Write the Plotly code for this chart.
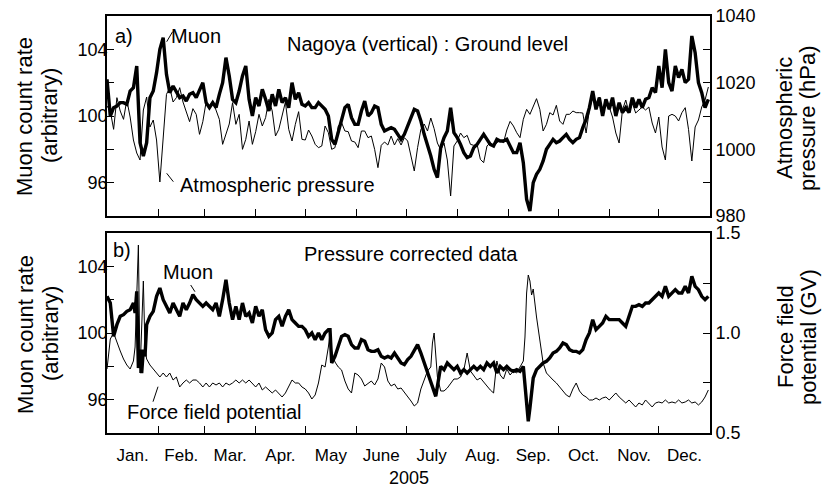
import plotly.graph_objects as go

# ---------------- data (day of year 2005, 0 = Jan 1) ----------------
top_days = list(range(0, 365, 2))

muon_ground = [
    102.2, 100.0, 100.5, 100.6, 100.8, 100.8, 100.7, 101.5, 101.7, 103.0,
    98.4, 97.6, 98.4, 101.1, 101.5, 102.6, 104.0, 104.7, 102.5, 101.4,
    101.8, 101.4, 101.1, 101.2, 100.9, 101.3, 101.4, 101.1, 101.6, 102.0,
    100.8, 100.5, 100.8, 100.5, 101.3, 102.0, 103.5, 102.4, 101.0, 100.8,
    101.5, 102.4, 103.0, 101.0, 100.0, 101.1, 100.6, 101.6, 101.0, 100.3,
    101.3, 100.6, 101.6, 100.8, 101.1, 100.5, 102.0, 101.0, 101.4,
    100.7, 100.6, 100.8, 100.5, 100.5, 100.8, 100.6, 100.4, 100.0, 98.6,
    98.3, 99.0, 99.8, 100.5, 100.7, 99.9, 99.5, 99.5, 100.3, 100.9,
    100.0, 100.2, 100.6, 100.5, 99.5, 99.1, 99.2, 99.3, 99.2, 98.9,
    98.6, 98.9, 99.4, 100.0, 100.4, 100.3, 99.7, 98.9, 98.3, 97.6,
    96.8, 96.3, 98.1, 98.7, 99.1, 100.5, 99.0, 98.7, 98.3, 97.8,
    97.5, 97.6, 98.1, 98.3, 98.6, 98.9, 98.6, 98.3, 98.2, 98.6,
    98.5, 98.5, 98.6, 98.2, 97.8, 97.8, 98.4, 97.2, 95.0, 94.3,
    96.0, 96.5, 96.8, 97.3, 98.0, 98.3, 98.6, 98.4, 98.5, 98.7,
    98.9, 98.6, 98.4, 98.6, 98.7,
    99.3, 99.8, 100.5, 101.5, 100.4, 101.1, 100.0, 101.0, 100.4, 101.1,
    100.0, 100.8, 100.2, 100.5, 100.2, 101.1, 100.5, 101.0, 100.5, 101.0,
    101.1, 101.7, 101.4, 103.0, 101.7, 104.0, 102.0, 101.5, 103.0, 102.3,
    102.8, 102.0, 102.2, 104.8, 103.8, 102.0, 101.4, 100.5, 101.0,
]

pressure_hpa = [
    1013, 1011.5, 1006, 1015.5, 1011.5, 1009, 1014.8, 1009.7, 1002.8, 998.9,
    996.8, 1011.8, 1015.7, 1006.7, 1008.8, 1002.8, 990.2, 1004.9, 1016.5, 1018.5,
    1014.2, 1015.5, 1018.5, 1014.2, 1011, 1008.3, 1012.2, 1010.5, 1004.5, 1008.3,
    1014.2, 1013, 1014.5, 1012, 1009, 1001.5, 1004.5, 1007.6, 1014, 1007.5,
    1010.5, 1000, 1003, 1008.5, 1001.5, 1005.3, 1010.5, 1007, 1009.5, 1015,
    1011.5, 1004, 1006, 1010.5, 1014.2, 1006, 1002.5, 1007.5, 1011.3,
    1003, 1002.8, 1005.8, 1004, 1001.5, 1000.5, 1001, 1007, 1005, 1000,
    1000.5, 1007, 1008, 1005.5, 1005.3, 1002.5, 1002.2, 1000.5, 1005.5, 1005.5,
    1003.5, 1004, 1000, 994.5, 1001.2, 1002.2, 1001.3, 1004, 1001.3, 1003.2,
    1001.3, 1003.5, 1002.5, 998.3, 993.5, 1000.5, 1006, 1007.6, 1005.5, 1009.4,
    1006.2, 1001.9, 999.8, 1001.9, 996.8, 986, 1001, 1002.5, 1004.9, 1003.5,
    1004.2, 1001.5, 1001.2, 1001.5, 997, 996, 1001, 1002, 1000.8, 1002,
    1002.6, 1002, 1005.8, 1008.4, 1007, 1005, 1003.5, 1009, 1012, 1010.5,
    1013, 1015.2, 1012, 1005.5, 1007.5, 1011, 1010.3, 1013.2, 1008.5, 1007.5,
    1010.5, 1010.5, 1011.5, 1011, 1011,
    1010.9, 1004.9, 1011.8, 1015.7, 1012.7, 1015.7, 1010.9, 1014.8, 1012.7, 1009.7,
    1004.9, 1001.9, 1011.8, 1014.8, 1010.9, 1013.9, 1010.9, 1011.8, 1012.7, 1011.8,
    1012.7, 1007.9, 1004.9, 1009.7, 1000.7, 996.8, 1010, 1010.5, 1010, 1008.5,
    1011, 1012.5, 1006, 996.5, 1006.7, 1008.8, 1012.7, 1014.8, 1018.7,
]

corr_days = ([0, 2, 4, 6, 8, 10, 12, 14, 16, 17, 18, 19, 20, 21, 22, 23, 24]
             + list(range(26, 135, 2)) + [135] + list(range(136, 199, 2)) + [199]
             + list(range(200, 253, 2)) + [253, 254, 255, 256, 257]
             + list(range(258, 365, 2)))

muon_corrected = [
    102.2, 101.8, 99.8, 100.5, 101.0, 101.1, 101.3, 101.4, 101.8, 101.2,
    102.5, 97.9, 99.0, 97.6, 99.0, 98.6, 100.5,
    101.0, 101.3, 102.2, 102.7, 102.0, 101.6, 101.2, 101.8, 101.4, 101.0,
    101.8, 101.4, 101.8, 102.3, 102.0, 101.8, 101.6, 101.8, 101.6, 101.4,
    101.8, 101.0, 102.0, 103.2, 101.8, 100.8, 101.6, 100.8, 101.8, 101.0,
    101.2, 100.6, 101.6, 101.0, 101.4, 100.2, 99.8, 100.0, 100.8, 101.0,
    100.4, 101.0, 101.4, 100.8, 100.6, 100.4, 100.4, 100.2, 99.8, 100.0,
    99.6, 100.0, 99.6, 100.0, 100.2,
    100.2,
    98.2, 98.6, 99.2, 99.8, 99.9, 99.8, 99.3, 99.1, 99.1, 99.6,
    99.5, 99.0, 98.9, 98.9, 99.0, 98.6, 98.5, 98.6, 98.5, 98.8,
    98.5, 98.2, 98.1, 98.4, 98.6, 99.0, 99.3, 98.8, 98.2, 97.6,
    97.0, 96.5,
    96.2,
    96.8, 98.0, 97.8, 98.2, 98.0, 97.8, 98.0, 97.6, 97.8, 97.6,
    97.8, 98.0, 97.8, 98.0, 97.8, 98.2, 98.0, 98.2, 97.6, 98.0,
    97.8, 98.0, 97.8, 97.7, 97.8, 97.7, 98.0,
    96.8, 95.7, 94.7, 95.5, 96.3,
    97.3, 97.8, 98.0, 98.2, 98.3, 98.5, 98.8, 98.9, 99.1, 99.4,
    99.3, 99.0, 98.9, 98.9, 98.8, 99.0, 99.6, 100.0, 100.8, 100.2,
    100.4, 100.6, 101.0, 100.8, 100.8, 100.8, 100.8, 100.6, 100.4, 101.0,
    101.6, 101.6, 101.7, 101.6, 101.8, 101.8, 102.0, 102.2, 102.4, 102.2,
    102.8, 102.2, 102.4, 102.6, 102.4, 102.4, 102.8, 102.4, 103.4, 102.8,
    102.6, 102.2, 102.0, 102.2,
]

ffp_days = ([0, 2, 4, 6, 8, 10, 12, 14, 16, 17, 18, 19, 20, 21, 22, 23, 24]
            + list(range(26, 135, 2)) + [135] + list(range(136, 197, 2))
            + [197, 198, 199] + list(range(200, 217, 2)) + [217]
            + list(range(218, 253, 2)) + [253, 254, 255, 256, 257]
            + list(range(258, 365, 2)))

force_field_gv = [
    0.82, 0.97, 1.0, 0.95, 0.91, 0.87, 0.84, 0.82, 0.86, 0.93,
    1.22, 1.44, 0.80, 1.08, 1.26, 0.92, 0.87,
    0.84, 0.82, 0.80, 0.78, 0.80, 0.78, 0.80, 0.765, 0.78, 0.73,
    0.75, 0.765, 0.75, 0.765, 0.765, 0.75, 0.73, 0.75, 0.73, 0.75,
    0.74, 0.75, 0.73, 0.75, 0.74, 0.75, 0.765, 0.75, 0.765, 0.75,
    0.765, 0.75, 0.73, 0.75, 0.715, 0.73, 0.715, 0.70, 0.715, 0.70,
    0.68, 0.70, 0.73, 0.765, 0.75, 0.75, 0.73, 0.72, 0.70, 0.67,
    0.69, 0.75, 0.84, 0.83, 0.93,
    1.0,
    0.91, 0.855, 0.83, 0.815, 0.76, 0.72, 0.70, 0.80, 0.79, 0.77,
    0.735, 0.75, 0.76, 0.74, 0.77, 0.85, 0.83, 0.76, 0.735, 0.745,
    0.72, 0.725, 0.705, 0.685, 0.66, 0.635, 0.65, 0.72, 0.77, 0.81,
    0.83,
    0.95, 1.0, 0.88,
    0.78, 0.71, 0.71, 0.725, 0.75, 0.77, 0.77, 0.78, 0.815,
    0.85,
    0.90, 0.81, 0.785, 0.765, 0.775, 0.755, 0.73, 0.715, 0.70, 0.86,
    0.79, 0.77, 0.82, 0.79, 0.81, 0.80, 0.83, 0.86,
    0.98, 1.2, 1.29, 1.26, 1.19,
    1.22, 1.08, 0.95, 0.85, 0.80, 0.78, 0.765, 0.75, 0.73, 0.715,
    0.69, 0.68, 0.72, 0.75, 0.71, 0.69, 0.68, 0.665, 0.665, 0.675,
    0.665, 0.675, 0.68, 0.665, 0.68, 0.70, 0.68, 0.665, 0.65, 0.665,
    0.65, 0.63, 0.65, 0.64, 0.665, 0.65, 0.63, 0.65, 0.655, 0.65,
    0.665, 0.65, 0.655, 0.65, 0.665, 0.65, 0.655, 0.665, 0.65, 0.655,
    0.64, 0.655, 0.68, 0.715,
]

month_names = ["Jan.", "Feb.", "Mar.", "Apr.", "May", "June", "July",
               "Aug.", "Sep.", "Oct.", "Nov.", "Dec."]
month_lengths = [31, 28, 31, 30, 31, 30, 31, 31, 30, 31, 30, 31]

muon_ticks = [96, 98, 100, 102, 104]
muon_ticktext = ["96", "", "100", "", "104"]
pressure_ticks = [980, 990, 1000, 1010, 1020, 1030, 1040]
pressure_ticktext = ["980", "", "1000", "", "1020", "", "1040"]
ffp_ticks = [0.5, 0.75, 1.0, 1.25, 1.5]
ffp_ticktext = ["0.5", "", "1.0", "", "1.5"]

assert len(muon_ground) == len(top_days)
assert len(pressure_hpa) == len(top_days)
assert len(muon_corrected) == len(corr_days)
assert len(force_field_gv) == len(ffp_days)

month_starts = []
month_mids = []
acc = 0
for ml in month_lengths:
    month_mids.append(acc + ml / 2)
    acc += ml
    month_starts.append(acc)
month_starts = month_starts[:-1]

FONT = "Liberation Sans, Arial, sans-serif"
INK = "black"

fig = go.Figure()
fig.add_trace(go.Scatter(x=top_days, y=pressure_hpa, mode="lines",
                         line=dict(color=INK, width=1), xaxis="x", yaxis="y"))
fig.add_trace(go.Scatter(x=top_days, y=muon_ground, mode="lines",
                         line=dict(color=INK, width=3.4), xaxis="x", yaxis="y2"))
fig.add_trace(go.Scatter(x=ffp_days, y=force_field_gv, mode="lines",
                         line=dict(color=INK, width=1), xaxis="x2", yaxis="y3"))
fig.add_trace(go.Scatter(x=corr_days, y=muon_corrected, mode="lines",
                         line=dict(color=INK, width=3.4), xaxis="x2", yaxis="y4"))

top_dom = [0.5204, 1.0]
bot_dom = [0.0, 0.4796]

common_ax = dict(showgrid=False, zeroline=False, showline=True, linecolor=INK,
                 linewidth=1.6, automargin=False,
                 tickfont=dict(family=FONT, size=18, color=INK))
xcommon = dict(common_ax, range=[0, 365], mirror=True, ticks="",
               minor=dict(tickmode="array", tickvals=month_starts, ticks="inside",
                          ticklen=7, tickwidth=1.2, tickcolor=INK))
ycommon = dict(common_ax, ticks="inside", ticklen=7, tickwidth=1.2, tickcolor=INK)

fig.update_layout(
    width=824, height=489,
    margin=dict(l=107, r=114, t=16, b=56, autoexpand=False),
    paper_bgcolor="white", plot_bgcolor="white",
    showlegend=False,
    font=dict(family=FONT, color=INK),
    xaxis=dict(xcommon, domain=[0, 1], anchor="y", showticklabels=False,
               tickvals=month_mids),
    xaxis2=dict(xcommon, domain=[0, 1], anchor="y3", tickmode="array",
                tickvals=month_mids, ticktext=month_names, ticklabelstandoff=6,
                tickfont=dict(family=FONT, size=17, color=INK)),
    yaxis=dict(ycommon, domain=top_dom, anchor="x", side="right",
               range=[980, 1040], tickmode="array", tickvals=pressure_ticks,
               ticktext=pressure_ticktext),
    yaxis2=dict(ycommon, anchor="x", overlaying="y", side="left",
                range=[94, 106], tickmode="array", tickvals=muon_ticks,
                ticktext=muon_ticktext, ticklabelstandoff=-6),
    yaxis3=dict(ycommon, domain=bot_dom, anchor="x2", side="right",
                range=[0.5, 1.5], tickmode="array", tickvals=ffp_ticks,
                ticktext=ffp_ticktext),
    yaxis4=dict(ycommon, anchor="x2", overlaying="y3", side="left",
                range=[94, 106], tickmode="array", tickvals=muon_ticks,
                ticktext=muon_ticktext, ticklabelstandoff=-6),
)

def txt(text, x, y, xref, yref, size=20, angle=0):
    return dict(text=text, x=x, y=y, xref=xref, yref=yref, showarrow=False,
                xanchor="center", yanchor="middle", textangle=angle,
                font=dict(family=FONT, size=size, color=INK))

annotations = [
    txt("a)", 0.028, 0.90, "x domain", "y domain"),
    txt("Muon", 0.148, 0.90, "x domain", "y domain"),
    txt("Nagoya (vertical) : Ground level", 0.531, 0.86, "x domain", "y domain"),
    txt("Atmospheric pressure", 0.282, 0.155, "x domain", "y domain"),
    txt("b)", 0.025, 0.915, "x2 domain", "y3 domain"),
    txt("Pressure corrected data", 0.504, 0.895, "x2 domain", "y3 domain"),
    txt("Muon", 0.134, 0.805, "x2 domain", "y3 domain"),
    txt("Force field potential", 0.179, 0.105, "x2 domain", "y3 domain"),
    txt("2005", 0.5, -0.1079, "paper", "paper", 18),
    # axis titles, one line each
    txt("Muon count rate", -0.136, 0.7602, "paper", "paper", 22, -90),
    txt("(arbitrary)", -0.0945, 0.7602, "paper", "paper", 22, -90),
    txt("Muon count rate", -0.136, 0.2374, "paper", "paper", 22, -90),
    txt("(arbitrary)", -0.0945, 0.2374, "paper", "paper", 22, -90),
    txt("Atmospheric", 1.1244, 0.7554, "paper", "paper", 22, -90),
    txt("pressure (hPa)", 1.1625, 0.7554, "paper", "paper", 22, -90),
    txt("Force field", 1.1244, 0.2302, "paper", "paper", 22, -90),
    txt("potential (GV)", 1.1625, 0.2302, "paper", "paper", 22, -90),
]
fig.update_layout(annotations=annotations)

def leader(x0, y0, x1, y1, xref, yref):
    return dict(type="line", x0=x0, y0=y0, x1=x1, y1=y1, xref=xref, yref=yref,
                line=dict(color=INK, width=1))

fig.update_layout(shapes=[
    leader(0.1088, 0.9215, 0.0990, 0.8715, "x domain", "y domain"),
    leader(0.1100, 0.1715, 0.0990, 0.2135, "x domain", "y domain"),
    leader(0.1388, 0.7400, 0.1459, 0.7065, "x2 domain", "y3 domain"),
    leader(0.0763, 0.1565, 0.0846, 0.2315, "x2 domain", "y3 domain"),
])

fig.write_html("out.html", config={"displayModeBar": False},
               post_script="document.body.style.margin='0px';")
